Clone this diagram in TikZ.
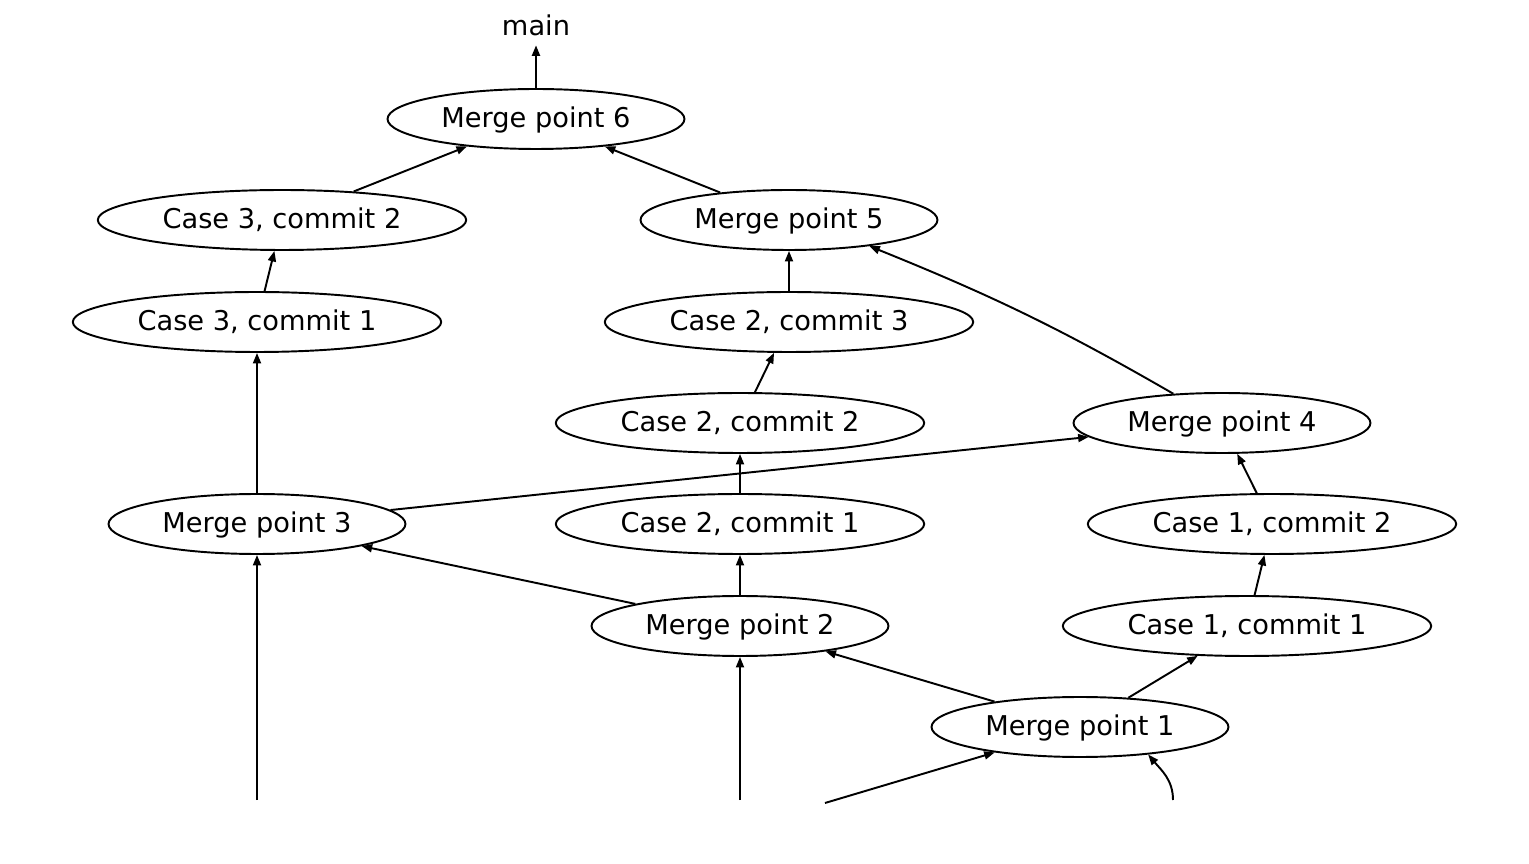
\documentclass[tikz,border=0pt]{standalone}
\usepackage{fontspec}
\setmainfont{DejaVu Sans}
\usetikzlibrary{shapes.geometric,arrows.meta}
\begin{document}
\begin{tikzpicture}[x=0.02cm,y=-0.02cm,
  every node/.style={font=\fontsize{15.5}{18}\selectfont},
  ebox/.style={ellipse,draw,line width=1.1pt,inner sep=0pt,minimum height=1.2cm,text height=13.5pt,text depth=3.7pt},
  wshort/.style={ebox,minimum width=5.94cm},
  wlong/.style={ebox,minimum width=7.37cm},
  arr/.style={line width=1.1pt,-{Triangle[length=0.21cm,width=0.16cm]}}]
\useasboundingbox (0,0) rectangle (1529,864);
\node[minimum height=0.8cm,inner sep=0pt] (main) at (536,25) {main};
\node[wshort] (mp6) at (536,119) {Merge point 6};
\node[wlong]  (c3c2) at (282,220) {Case 3, commit 2};
\node[wshort] (mp5) at (789,220) {Merge point 5};
\node[wlong]  (c3c1) at (257,322) {Case 3, commit 1};
\node[wlong]  (c2c3) at (789,322) {Case 2, commit 3};
\node[wlong]  (c2c2) at (740,423) {Case 2, commit 2};
\node[wshort] (mp4) at (1222,423) {Merge point 4};
\node[wshort] (mp3) at (257,524) {Merge point 3};
\node[wlong]  (c2c1) at (740,524) {Case 2, commit 1};
\node[wlong]  (c1c2) at (1272,524) {Case 1, commit 2};
\node[wshort] (mp2) at (740,626) {Merge point 2};
\node[wlong]  (c1c1) at (1247,626) {Case 1, commit 1};
\node[wshort] (mp1) at (1080,727) {Merge point 1};
\coordinate (b1) at (257,800);
\coordinate (b2) at (740,800);
\coordinate (b3) at (825,803);
\coordinate (b4) at (1173,800);

\draw[arr] (mp6) -- (main);
\draw[arr] (c3c2) -- (mp6);
\draw[arr] (mp5) -- (mp6);
\draw[arr] (c3c1) -- (c3c2);
\draw[arr] (c2c3) -- (mp5);
\draw[arr] (mp4.149) to[out=150,in=-22] (mp5.-18);
\draw[arr] (c2c2) -- (c2c3);
\draw[arr] (mp3) -- (c3c1);
\draw[arr] (mp3) -- (mp4);
\draw[arr] (c2c1) -- (c2c2);
\draw[arr] (c1c2) -- (mp4);
\draw[arr] (mp2) -- (mp3);
\draw[arr] (mp2) -- (c2c1);
\draw[arr] (c1c1) -- (c1c2);
\draw[arr] (mp1) -- (mp2);
\draw[arr] (mp1) -- (c1c1);
\draw[arr] (b1) -- (mp3);
\draw[arr] (b2) -- (mp2);
\draw[arr] (b3) -- (mp1);
\draw[arr] (b4) to[out=90,in=-50] (mp1.-22);
\end{tikzpicture}
\end{document}
